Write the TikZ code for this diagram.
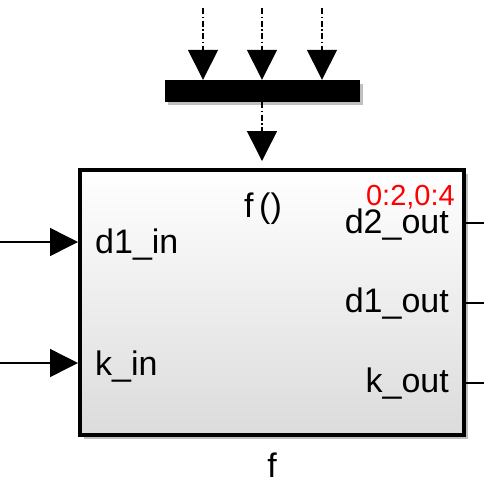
\documentclass[tikz,border=0pt]{standalone}
\usepackage{fontspec}
\setmainfont{Liberation Sans}
\usetikzlibrary{arrows.meta}
\begin{document}
\begin{tikzpicture}[x=1pt,y=-1pt,
  lbl/.style={font=\fontsize{34}{34}\selectfont, inner sep=0pt},
  redlbl/.style={font=\fontsize{29}{29}\selectfont, inner sep=0pt, text=red},
  sig/.style={line width=1.5pt, -{Triangle[length=28pt,width=28pt]}},
  dsig/.style={line width=1.5pt, dash pattern=on 6pt off 2.5pt on 1.5pt off 2.5pt, -{Triangle[length=30pt,width=30pt]}},
  outl/.style={line width=1.5pt},
  shadowbox/.style={fill=black, opacity=0.25}
]
\useasboundingbox (0,0) rectangle (484,483);
% shadows
\fill[shadowbox] (84,174) rectangle (468,439);
\fill[shadowbox] (168,84) rectangle (363,105);
% main block
\node[draw, line width=4pt, top color=white, bottom color=black!14, minimum width=384pt, minimum height=265pt, inner sep=0pt] (blk) at (272,302.5) {};
% bus bar
\node[fill=black, minimum width=195pt, minimum height=22pt, inner sep=0pt] (bus) at (262.5,91) {};
% top inputs
\coordinate (t1) at (203,8);
\coordinate (t2) at (262,8);
\coordinate (t3) at (322,8);
\draw[dsig] (t1) -- (t1 |- bus.north);
\draw[dsig] (t2) -- (t2 |- bus.north);
\draw[dsig] (t3) -- (t3 |- bus.north);
\coordinate (bend) at (262,161);
\draw[dsig] (bus.south -| bend) -- (bend);
% inputs
\coordinate (i1) at (0,242);
\coordinate (i2) at (0,363);
\draw[sig] (i1) -- (i1 -| blk.west);
\draw[sig] (i2) -- (i2 -| blk.west);
% outputs
\coordinate (o1) at (484,223);
\coordinate (o2) at (484,303);
\coordinate (o3) at (484,383);
\draw[outl] (o1 -| blk.east) -- (o1);
\draw[outl] (o2 -| blk.east) -- (o2);
\draw[outl] (o3 -| blk.east) -- (o3);
% labels
\node[lbl, anchor=base west] (l1) at (95,253) {d1\_in};
\node[lbl, anchor=base west] (l2) at (95,375) {k\_in};
\node[lbl, anchor=base east] (l3) at (449,233) {d2\_out};
\node[lbl, anchor=base east] (l4) at (449,312) {d1\_out};
\node[lbl, anchor=base east] (l5) at (449,392) {k\_out};
\node[redlbl, anchor=base east] (r1) at (455,205) {0:2,0:4};
\node[lbl, anchor=base] (fn) at (263,217) {f\,()};
\node[lbl, anchor=base] (name) at (272,477) {f};
\end{tikzpicture}
\end{document}
